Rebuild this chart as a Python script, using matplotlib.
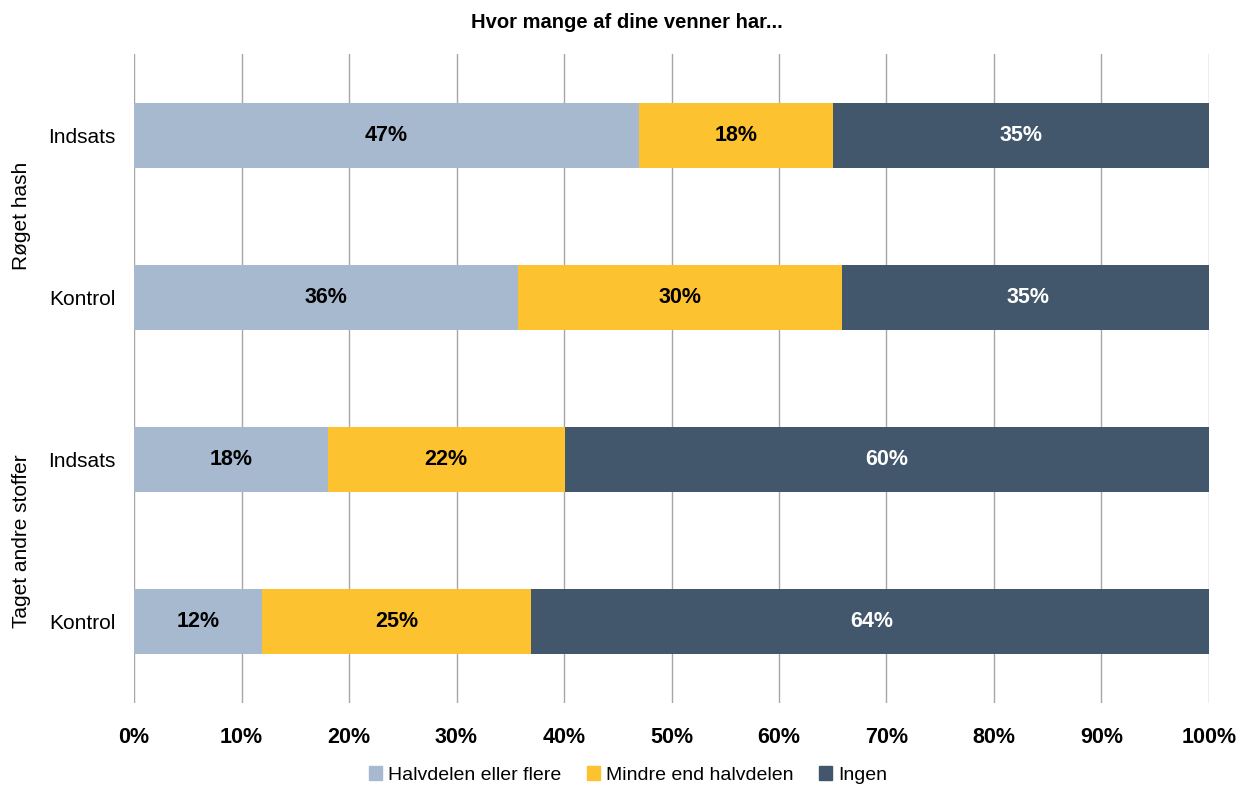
import numpy as np
import matplotlib.pyplot as plt
from matplotlib.patches import Patch

# Data (share of friends, in percent)
groups = ['Røget hash', 'Taget andre stoffer']
rows = ['Indsats', 'Kontrol', 'Indsats', 'Kontrol']
halvdelen = [47.0, 35.7, 18.0, 11.9]
mindre = [18.0, 30.2, 22.1, 25.0]
ingen = [35.0, 34.6, 59.9, 63.5]
series_names = ['Halvdelen eller flere', 'Mindre end halvdelen', 'Ingen']
colors = ['#A6B9CF', '#FDC22F', '#42576B']
text_colors = ['black', 'black', 'white']

plt.rcParams['font.family'] = ['Liberation Sans', 'DejaVu Sans']

fig = plt.figure(figsize=(12.41, 7.87), dpi=100)
ax = fig.add_axes([0.108, 0.1067, 0.8662, 0.8247])

y = np.arange(len(rows))
left = np.zeros(len(rows))
for vals, col, tcol in zip([halvdelen, mindre, ingen], colors, text_colors):
    vals = np.array(vals)
    ax.barh(y, vals, left=left, height=0.4, color=col, zorder=2)
    for yi, l, v in zip(y, left, vals):
        ax.text(l + v / 2, yi, f'{v:.0f}%', ha='center', va='center',
                fontsize=15.5, fontweight='bold', color=tcol, zorder=3)
    left = left + vals

ax.set_xlim(0, 100)
ax.set_ylim(3.5, -0.5)
ax.set_xticks(np.arange(0, 101, 10))
ax.set_xticklabels([f'{t}%' for t in range(0, 101, 10)],
                   fontsize=15.5, fontweight='bold')
ax.set_yticks(y)
ax.set_yticklabels(rows, fontsize=15)
ax.tick_params(axis='both', length=0)
ax.tick_params(axis='x', pad=17)
ax.tick_params(axis='y', pad=13)
ax.xaxis.grid(True, color='#A6A6A6', linewidth=1, zorder=0)
for s in ax.spines.values():
    s.set_visible(False)

# group labels
for i, g in enumerate(groups):
    fig.text(0.017, ax.transData.transform((0, 2 * i + 0.5))[1] / fig.bbox.height, g,
             rotation=90, ha='center', va='center', fontsize=15)

fig.text(0.505, 0.972, 'Hvor mange af dine venner har...', ha='center', va='center',
         fontsize=14.5, fontweight='bold')

handles = [Patch(color=c) for c in colors]
fig.legend(handles, series_names, loc='center', bbox_to_anchor=(0.506, 0.015),
           ncol=3, frameon=False, fontsize=14, handlelength=0.7, handleheight=0.7,
           handletextpad=0.3, columnspacing=1.3)

fig.savefig('out.png', dpi=100)
